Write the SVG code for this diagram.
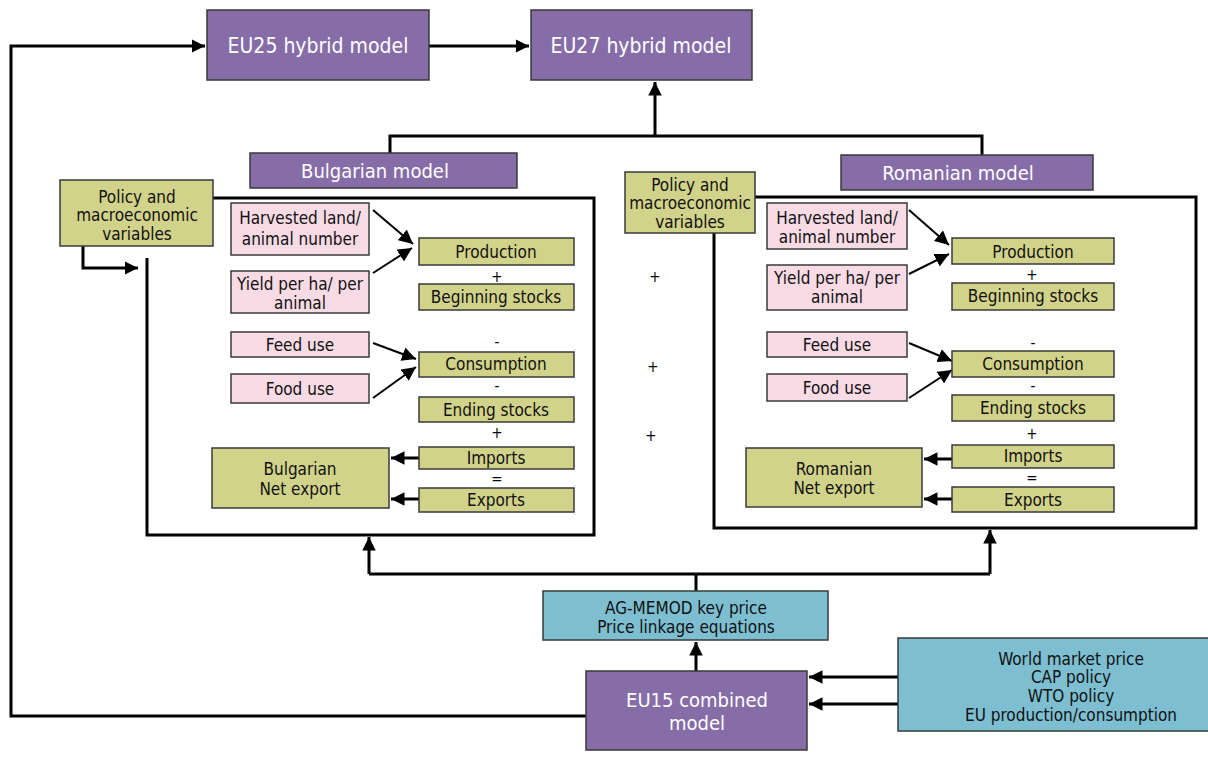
<svg xmlns="http://www.w3.org/2000/svg" width="1208" height="780" viewBox="0 0 1208 780">
<defs>
<marker id="ah" viewBox="0 0 10 10" refX="10" refY="5" markerWidth="4.5" markerHeight="4.5" markerUnits="strokeWidth" orient="auto"><path d="M0,0 L10,5 L0,10 z" fill="#000"/></marker>
<marker id="ahs" viewBox="0 0 10 10" refX="10" refY="5" markerWidth="7" markerHeight="7" markerUnits="strokeWidth" orient="auto"><path d="M0,0 L10,5 L0,10 z" fill="#000"/></marker>
<style>
text{font-family:"Liberation Sans Narrow","DejaVu Sans Condensed","Liberation Sans",sans-serif;text-anchor:middle;font-size:17px;fill:#111}
.pu{fill:#866da7;stroke:#3a3a3a;stroke-width:1.5}
.gr{fill:#d1d38a;stroke:#3a3a3a;stroke-width:1.5}
.pk{fill:#f9dbe6;stroke:#3a3a3a;stroke-width:1.5}
.bl{fill:#7dbed0;stroke:#3a3a3a;stroke-width:1.5}
.wt{fill:#fff;font-size:21px}
.wm{fill:#fff;font-size:20px}
.ln{fill:none;stroke:#000;stroke-width:3}
.lt{fill:none;stroke:#000;stroke-width:2}
.op{font-size:15px;fill:#000}
</style>
</defs>

<g id="connectors">
<path class="ln" d="M586,716 H11 V46 H205" marker-end="url(#ah)"/>
<path class="ln" d="M429,46 H529" marker-end="url(#ah)"/>
<path class="ln" d="M655,136 V82" marker-end="url(#ah)"/>
<path class="ln" d="M390,153 V136 H982 V155"/>
<path class="ln" d="M83,246 V268 H138" marker-end="url(#ah)"/>
<path class="ln" d="M213,198 H594 V535 H147 V258"/>
<path class="ln" d="M755,197 H1196 V528 H714 V233"/>
<path class="lt" d="M373,210 L413,244" marker-end="url(#ahs)"/>
<path class="lt" d="M373,273 L412,248" marker-end="url(#ahs)"/>
<path class="lt" d="M373,343 L416,359" marker-end="url(#ahs)"/>
<path class="lt" d="M373,398 L416,367" marker-end="url(#ahs)"/>
<path class="ln" d="M419,458 H391" marker-end="url(#ah)"/>
<path class="ln" d="M419,499 H391" marker-end="url(#ah)"/>
<path class="lt" d="M909,210 L949,245" marker-end="url(#ahs)"/>
<path class="lt" d="M909,274 L949,254" marker-end="url(#ahs)"/>
<path class="lt" d="M909,343 L952,361" marker-end="url(#ahs)"/>
<path class="lt" d="M909,398 L952,370" marker-end="url(#ahs)"/>
<path class="ln" d="M952,459 H924" marker-end="url(#ah)"/>
<path class="ln" d="M952,499 H924" marker-end="url(#ah)"/>
<path class="ln" d="M696,591 V574"/>
<path class="ln" d="M369,574 H990"/>
<path class="ln" d="M369,574 V537" marker-end="url(#ah)"/>
<path class="ln" d="M990,574 V530" marker-end="url(#ah)"/>
<path class="ln" d="M696,671 V642" marker-end="url(#ah)"/>
<path class="ln" d="M898,677 H809" marker-end="url(#ah)"/>
<path class="ln" d="M898,704 H809" marker-end="url(#ah)"/>
</g>

<g id="eu25"><rect class="pu" x="207" y="10" width="222" height="70"/><text class="wt" x="318" y="53">EU25 hybrid model</text></g>
<g id="eu27"><rect class="pu" x="531" y="10" width="221" height="70"/><text class="wt" x="641" y="53">EU27 hybrid model</text></g>
<g id="bg-model"><rect class="pu" x="250" y="153" width="267" height="35"/><text class="wm" x="375" y="178">Bulgarian model</text></g>
<g id="ro-model"><rect class="pu" x="841" y="155" width="252" height="35"/><text class="wm" x="958" y="180">Romanian model</text></g>

<g id="bg-policy"><rect class="gr" x="60" y="180" width="153" height="66"/><text x="137" y="203">Policy and</text><text x="137" y="221">macroeconomic</text><text x="137" y="240">variables</text></g>
<g id="bg-harvest"><rect class="pk" x="231" y="203" width="138" height="52"/><text x="300" y="224">Harvested land/</text><text x="300" y="245">animal number</text></g>
<g id="bg-yield"><rect class="pk" x="231" y="271" width="138" height="42"/><text x="300" y="290">Yield per ha/ per</text><text x="300" y="309">animal</text></g>
<g id="bg-feed"><rect class="pk" x="231" y="332" width="138" height="25"/><text x="300" y="351">Feed use</text></g>
<g id="bg-food"><rect class="pk" x="231" y="374" width="138" height="29"/><text x="300" y="395">Food use</text></g>
<g id="bg-prod"><rect class="gr" x="419" y="238" width="155" height="27"/><text x="496" y="258">Production</text></g>
<text class="op" x="497" y="282">+</text>
<g id="bg-begin"><rect class="gr" x="419" y="284" width="155" height="26"/><text x="496" y="303">Beginning stocks</text></g>
<text class="op" x="497" y="347">-</text>
<g id="bg-cons"><rect class="gr" x="419" y="352" width="155" height="25"/><text x="496" y="370">Consumption</text></g>
<text class="op" x="497" y="391">-</text>
<g id="bg-end"><rect class="gr" x="419" y="397" width="155" height="25"/><text x="496" y="416">Ending stocks</text></g>
<text class="op" x="497" y="438">+</text>
<g id="bg-imp"><rect class="gr" x="419" y="447" width="155" height="22"/><text x="496" y="464">Imports</text></g>
<text class="op" x="497" y="484">=</text>
<g id="bg-exp"><rect class="gr" x="419" y="488" width="155" height="24"/><text x="496" y="506">Exports</text></g>
<g id="bg-net"><rect class="gr" x="212" y="448" width="177" height="60"/><text x="300" y="475">Bulgarian</text><text x="300" y="495">Net export</text></g>

<text class="op" x="655" y="282">+</text>
<text class="op" x="653" y="372">+</text>
<text class="op" x="651" y="441">+</text>

<g id="ro-policy"><rect class="gr" x="625" y="172" width="130" height="61"/><text x="690" y="191">Policy and</text><text x="690" y="209">macroeconomic</text><text x="690" y="228">variables</text></g>
<g id="ro-harvest"><rect class="pk" x="767" y="203" width="140" height="46"/><text x="837" y="224">Harvested land/</text><text x="837" y="243">animal number</text></g>
<g id="ro-yield"><rect class="pk" x="767" y="265" width="140" height="45"/><text x="837" y="284">Yield per ha/ per</text><text x="837" y="303">animal</text></g>
<g id="ro-feed"><rect class="pk" x="767" y="332" width="140" height="25"/><text x="837" y="351">Feed use</text></g>
<g id="ro-food"><rect class="pk" x="767" y="374" width="140" height="27"/><text x="837" y="394">Food use</text></g>
<g id="ro-prod"><rect class="gr" x="952" y="238" width="162" height="26"/><text x="1033" y="258">Production</text></g>
<text class="op" x="1032" y="280">+</text>
<g id="ro-begin"><rect class="gr" x="952" y="283" width="162" height="27"/><text x="1033" y="302">Beginning stocks</text></g>
<text class="op" x="1033" y="348">-</text>
<g id="ro-cons"><rect class="gr" x="952" y="351" width="162" height="26"/><text x="1033" y="370">Consumption</text></g>
<text class="op" x="1033" y="391">-</text>
<g id="ro-end"><rect class="gr" x="952" y="395" width="162" height="26"/><text x="1033" y="414">Ending stocks</text></g>
<text class="op" x="1032" y="439">+</text>
<g id="ro-imp"><rect class="gr" x="952" y="445" width="162" height="23"/><text x="1033" y="462">Imports</text></g>
<text class="op" x="1032" y="483">=</text>
<g id="ro-exp"><rect class="gr" x="952" y="487" width="162" height="25"/><text x="1033" y="506">Exports</text></g>
<g id="ro-net"><rect class="gr" x="746" y="448" width="176" height="59"/><text x="834" y="475">Romanian</text><text x="834" y="494">Net export</text></g>

<g id="agmemod"><rect class="bl" x="543" y="591" width="285" height="49"/><text x="686" y="614">AG-MEMOD key price</text><text x="686" y="633">Price linkage equations</text></g>
<g id="eu15"><rect class="pu" x="586" y="671" width="221" height="79"/><text class="wm" x="697" y="707">EU15 combined</text><text class="wm" x="697" y="730">model</text></g>
<g id="world"><rect class="bl" x="898" y="638" width="312" height="93"/><text x="1071" y="665">World market price</text><text x="1071" y="683">CAP policy</text><text x="1071" y="702">WTO policy</text><text x="1071" y="721">EU production/consumption</text></g>
</svg>
